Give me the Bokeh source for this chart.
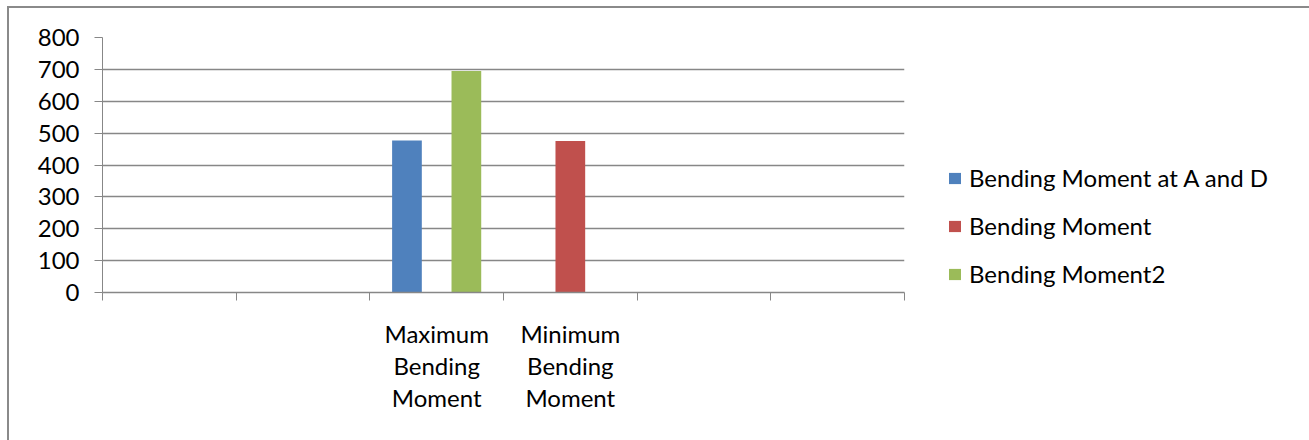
import numpy as np
from bokeh.plotting import figure
from bokeh.models import (ColumnDataSource, FixedTicker, Legend, LegendItem,
                          Range1d)
from bokeh.embed import file_html
from bokeh.resources import INLINE

# Chart data
categories = ["", "", "Maximum Bending Moment", "Minimum Bending Moment", "", ""]
series_names = ["Bending Moment at A and D", "Bending Moment", "Bending Moment2"]
moment_a_and_d = [np.nan, np.nan, 477, np.nan, np.nan, np.nan]
moment = [np.nan, np.nan, np.nan, 475, np.nan, np.nan]
moment2 = [np.nan, np.nan, 695, np.nan, np.nan, np.nan]
y_ticks = [0, 100, 200, 300, 400, 500, 600, 700, 800]

colors = ["#4F81BD", "#C0504D", "#9BBB59"]
series_values = [moment_a_and_d, moment, moment2]

FONT = "Lato"
FONT_SIZE = "24px"
GRID = "#878787"

n = len(categories)
centers = np.arange(n) + 0.5
bar_w = 1 / 4.5  # three bars plus a 150% gap per category

p = figure(width=1296, height=432, output_backend="svg", toolbar_location=None,
           x_range=Range1d(0, n), y_range=Range1d(0, 800),
           frame_width=802, frame_height=255,
           min_border_left=93, min_border_top=29,
           min_border_right=401, min_border_bottom=148)
p.margin = (6, 0, 0, 7)
p.styles = {"border-left": "2px solid #8a8a8a", "border-top": "2px solid #8a8a8a",
            "border-right": "2px solid #8a8a8a"}
p.outline_line_color = None
p.background_fill_color = "white"
p.border_fill_color = "white"

renderers = []
for k, (vals, col) in enumerate(zip(series_values, colors)):
    src = ColumnDataSource(dict(x=centers + (k - 1) * bar_w, top=vals))
    r = p.vbar(x="x", top="top", bottom=0, width=bar_w, source=src,
               fill_color=col, line_color=None)
    renderers.append(r)

# Y axis
p.yaxis.ticker = FixedTicker(ticks=y_ticks)
p.yaxis.axis_line_color = GRID
p.yaxis.major_tick_line_color = GRID
p.yaxis.major_tick_out = 8
p.yaxis.major_tick_in = 0
p.yaxis.minor_tick_line_color = None
p.yaxis.major_label_text_font = FONT
p.yaxis.major_label_text_font_size = FONT_SIZE
p.yaxis.major_label_text_color = "black"
p.yaxis.major_label_standoff = 15
p.ygrid.ticker = FixedTicker(ticks=y_ticks)
p.ygrid.grid_line_color = GRID
p.ygrid.grid_line_width = 1.3
p.xgrid.grid_line_color = None

# X axis: tick marks between categories, labels at category centres
label_ticks = [float(c) for c, name in zip(centers, categories) if name]
p.xaxis.ticker = FixedTicker(ticks=label_ticks, minor_ticks=list(range(n + 1)))
p.xaxis.major_label_overrides = {float(c): name.replace(" ", "\n")
                                 for c, name in zip(centers, categories) if name}
p.xaxis.axis_line_color = GRID
p.xaxis.axis_line_width = 1.3
p.xaxis.major_tick_out = 0
p.xaxis.major_tick_in = 0
p.xaxis.minor_tick_line_color = GRID
p.xaxis.minor_tick_out = 8
p.xaxis.minor_tick_in = 0
p.xaxis.major_label_text_font = FONT
p.xaxis.major_label_text_font_size = FONT_SIZE
p.xaxis.major_label_text_color = "black"
p.xaxis.major_label_text_line_height = 1.11
p.xaxis.major_label_standoff = 18

legend = Legend(items=[LegendItem(label=nm, renderers=[r])
                       for nm, r in zip(series_names, renderers)],
                location=(43, 4), orientation="vertical",
                padding=0, margin=0, border_line_color=None,
                background_fill_alpha=0,
                glyph_width=15, glyph_height=14, label_standoff=7,
                label_height=20, spacing=19,
                label_text_font=FONT, label_text_font_size=FONT_SIZE,
                label_text_color="black")
p.add_layout(legend, "right")

open("out.html", "w").write(file_html(p, INLINE))
